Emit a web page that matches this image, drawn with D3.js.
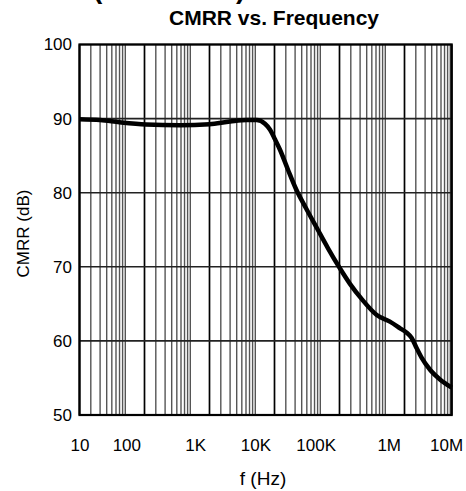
<!DOCTYPE html>
<html>
<head>
<meta charset="utf-8">
<script src="https://cdn.jsdelivr.net/npm/d3@7"></script>
<style>
  body { margin: 0; background: #fff; }
  svg { display: block; font-family: "Liberation Sans", Arial, sans-serif; }
</style>
</head>
<body>
<svg id="canvas" width="466" height="491"></svg>
<script>
// curve
let freq = [10, 30, 70, 110, 570, 1000, 3000, 6200, 7800, 9070, 9490, 9760,
  10300, 14000, 22000, 31200, 48300, 77900, 93900, 99700, 190000,
  326000, 619000, 923000, 976000, 1145000, 1555000, 2080000, 2590000,
  3720000, 5740000, 10000000]
let cmrr = [89.9, 89.8, 89.5, 89.2, 89.1, 89.25, 89.6, 89.8, 89.8, 89.8, 89.3, 88.5,
  87.2, 85.8, 83.1, 80.5, 77.9, 75.2, 72.5, 70.0, 67.7,
  65.6, 63.5, 62.6, 61.7, 61.1, 60.4, 59.0, 57.7,
  56.1, 54.8, 53.7]

let xTicks = [10, 100, 1e3, 1e4, 1e5, 1e6, 1e7]
let xTickLabels = ['10', '100', '1K', '10K', '100K', '1M', '10M']
let yTicks = [50, 60, 70, 80, 90, 100]

// layout
let plotLeft = 79.5
let plotTop = 44.5
let plotBottom = 415
let decadeStep = 65
let twoOffset = 11.3
let nineOffset = 45.8
let lastDecade = 47.2

// the printed grid squeezes 2..9 into the front of each decade
let xDomain = []
let xRange = []
xTicks.slice(0, -1).forEach((d, i) => {
  let start = plotLeft + i * decadeStep
  xDomain.push(d, d * 2, d * 9)
  xRange.push(start, start + twoOffset, start + nineOffset)
})
xDomain.push(xTicks[xTicks.length - 1])
let plotRight = plotLeft + (xTicks.length - 2) * decadeStep + lastDecade
xRange.push(plotRight)

let x = d3.scaleLog().domain(xDomain).range(xRange)
let y = d3.scaleLinear().domain([50, 100]).range([plotBottom, plotTop])

let canvas = d3.select('#canvas')

// minor vertical grid
let minors = xTicks.slice(0, -1).flatMap((d) => d3.range(2, 10).map((k) => d * k))
canvas.append('g')
  .selectAll('line')
  .data(minors)
  .enter()
  .append('line')
  .attr('x1', (d) => x(d))
  .attr('x2', (d) => x(d))
  .attr('y1', plotTop)
  .attr('y2', plotBottom)
  .attr('stroke', '#555')
  .attr('stroke-width', 1.4)

// major vertical grid
canvas.append('g')
  .selectAll('line')
  .data(xTicks)
  .enter()
  .append('line')
  .attr('x1', (d) => x(d))
  .attr('x2', (d) => x(d))
  .attr('y1', plotTop)
  .attr('y2', plotBottom)
  .attr('stroke', '#000')
  .attr('stroke-width', 1.7)

// horizontal grid
canvas.append('g')
  .selectAll('line')
  .data(yTicks)
  .enter()
  .append('line')
  .attr('x1', plotLeft)
  .attr('x2', plotRight)
  .attr('y1', (d) => y(d))
  .attr('y2', (d) => y(d))
  .attr('stroke', '#222')
  .attr('stroke-width', 1.6)

// frame
canvas.append('rect')
  .attr('x', plotLeft)
  .attr('y', plotTop)
  .attr('width', plotRight - plotLeft)
  .attr('height', plotBottom - plotTop)
  .attr('fill', 'none')
  .attr('stroke', '#000')
  .attr('stroke-width', 2.2)

// curve
let line = d3.line()
  .x((d, i) => x(freq[i]))
  .y((d) => y(d))
  .curve(d3.curveMonotoneX)

canvas.append('path')
  .attr('d', line(cmrr))
  .attr('fill', 'none')
  .attr('stroke', '#000')
  .attr('stroke-width', 4.5)
  .attr('stroke-linejoin', 'round')

// axes
let xAxis = d3.axisBottom(x)
  .tickValues(xTicks)
  .tickFormat((d, i) => xTickLabels[i])
  .tickSize(0)

canvas.append('g')
  .attr('transform', 'translate(0,' + plotBottom + ')')
  .call(xAxis)
  .call((g) => g.select('.domain').remove())
  .selectAll('text')
  .attr('dy', null)
  .attr('y', 36)
  .attr('font-size', 17)
  .attr('fill', '#000')
  .attr('font-family', null)
  .attr('text-anchor', (d, i) => i === 0 ? 'middle' : 'end')
  .attr('dx', (d, i) => i === 0 ? 0 : (i === xTicks.length - 1 ? 11 : -4))

let yAxis = d3.axisLeft(y)
  .tickValues(yTicks)
  .tickSize(0)
  .tickPadding(7.5)

canvas.append('g')
  .attr('transform', 'translate(' + plotLeft + ',0)')
  .call(yAxis)
  .call((g) => g.select('.domain').remove())
  .selectAll('text')
  .attr('font-size', 17)
  .attr('fill', '#000')
  .attr('font-family', null)

// titles
canvas.append('text')
  .attr('x', 93)
  .attr('y', -2.5)
  .attr('font-size', 28)
  .attr('font-weight', 'bold')
  .text('(continued)')

canvas.append('text')
  .attr('x', 274)
  .attr('y', 25)
  .attr('text-anchor', 'middle')
  .attr('font-size', 21)
  .attr('font-weight', 'bold')
  .text('CMRR vs. Frequency')

canvas.append('text')
  .attr('x', 263)
  .attr('y', 485)
  .attr('text-anchor', 'middle')
  .attr('font-size', 19)
  .text('f (Hz)')

canvas.append('text')
  .attr('transform', 'translate(29,233.5) rotate(-90)')
  .attr('text-anchor', 'middle')
  .attr('font-size', 17)
  .text('CMRR (dB)')
</script>
</body>
</html>
